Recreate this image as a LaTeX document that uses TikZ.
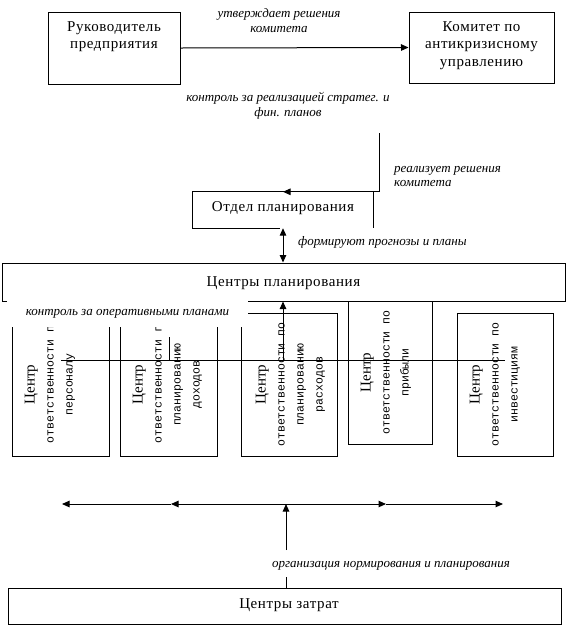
\documentclass[tikz,border=0pt]{standalone}
\usepackage{fontspec}
\setmainfont{Liberation Serif}
\newfontfamily\monof{Liberation Mono}
\usetikzlibrary{arrows.meta}
\tikzset{
 box/.style={draw, line width=1pt, rectangle, inner sep=0pt},
 maintxt/.style={font=\fontsize{15}{17.5}\selectfont\addfontfeature{LetterSpace=4}, align=center, inner sep=0pt},
 lbl/.style={font=\fontsize{13}{15}\selectfont\itshape, align=center, inner sep=0pt},
 lbll/.style={font=\fontsize{13}{14}\selectfont\itshape, align=left, inner sep=0pt},
 vtxt/.style={font=\fontsize{11.5}{19}\selectfont\monof, align=center, inner sep=0pt, rotate=90, anchor=north},
 conn/.style={line width=1pt},
 arr/.style={line width=1pt, -{Triangle[length=7.5pt,width=6.5pt]}},
 arrs/.style={line width=1pt, {Triangle[length=7.5pt,width=6.5pt]}-{Triangle[length=7.5pt,width=6.5pt]}},
}
\newcommand\centrword{{\rmfamily\fontsize{15}{19}\selectfont Центр}}
\begin{document}
\begin{tikzpicture}[x=1pt,y=-1pt]
\useasboundingbox (0,0) rectangle (566,625);
% top boxes
\node[box, minimum width=132pt, minimum height=72pt] (ruk) at (114,48) {};
\node[maintxt] (rukt) at (114,36.5) {Руководитель\\предприятия};
\node[box, minimum width=145pt, minimum height=71pt] (kom) at (481.5,47.5) {};
\node[maintxt] (komt) at (481.5,45.5) {Комитет по\\антикризисному\\управлению};
\draw[arr] (ruk.east) -- (kom.west);
\node[lbl] (l1) at (279,20.5) {утверждает решения\\комитета};
\node[lbl] (l2) at (288,105.5) {контроль за реализацией стратег. и\\фин. планов};
% planning department
\node[inner sep=0pt, minimum width=180pt, minimum height=36pt] (otd) at (283,210) {};
\node[maintxt] (otdt) at (283,208) {Отдел планирования};
\coordinate (c1) at (379,133);
\draw[conn] (c1) -- (c1 |- otd.north) -- (otd.north west) -- (otd.south west) -- ([xshift=87pt]otd.south west);
\draw[conn] (otd.north east) -- (otd.south east);
\draw[arr] (c1 |- otd.north) -- (otd.north);
\node[lbll, anchor=west] (l3) at (394,177) {реализует решения\\комитета};
% planning centres
\node[box, minimum width=563pt, minimum height=38pt] (plan) at (283.5,282) {};
\node[maintxt] (plant) at (283.5,283) {Центры планирования};
\draw[arrs] (otd.south) -- (otd.south |- plan.north);
\node[lbl, anchor=west] (l4) at (298,242) {формируют прогнозы и планы};
% responsibility centres
\node[box, minimum width=97pt, minimum height=143pt] (b1) at (60.5,384.5) {};
\node[box, minimum width=97pt, minimum height=143pt] (b2) at (168.5,384.5) {};
\node[box, minimum width=96pt, minimum height=143pt] (b3) at (289,384.5) {};
\node[box, minimum width=84pt, minimum height=143pt] (b4) at (390,372.5) {};
\node[box, minimum width=96pt, minimum height=143pt] (b5) at (505,384.5) {};
\node[vtxt] (b1t) at ([xshift=13pt]b1.west) {\centrword\\ответственности п\\персоналу};
\node[vtxt] (b2t) at ([xshift=13pt]b2.west) {\centrword\\ответственности г\\планированию\\доходов};
\node[vtxt] (b3t) at ([xshift=15pt]b3.west) {\centrword\\ответственности по\\планированию\\расходов};
\node[vtxt] (b4t) at ([xshift=13pt]b4.west) {\centrword\\ответственности по\\прибыли};
\node[vtxt] (b5t) at ([xshift=13pt]b5.west) {\centrword\\ответственности по\\инвестициям};
\node[lbl, fill=white, minimum width=241pt, minimum height=26pt] (l5) at (127.5,314) {контроль за оперативными планами};
\coordinate (hl) at (61,360);
\coordinate (hr) at (505,360);
\draw[conn] (hl) -- (hr);
\coordinate (s1) at (169,337);
\draw[conn] (s1) -- (s1 |- hl);
\coordinate (h1) at (283,360);
\draw[arr] (h1) -- (h1 |- plan.south);
% cost centres
\node[box, minimum width=553pt, minimum height=36pt] (zat) at (284.5,606) {};
\node[maintxt] (zatt) at (289,605) {Центры затрат};
\coordinate (j) at (286,504);
\coordinate (a1) at (62,504);
\coordinate (a2) at (171,504);
\coordinate (a3) at (386,504);
\coordinate (a4) at (503,504);
\draw[arr] (j) -- (a2);
\draw[arr] (a2) -- (a1);
\draw[arr] (j) -- (a3);
\draw[arr] (a3) -- (a4);
\coordinate (v1) at (286,550);
\draw[arr] (v1) -- (j);
\coordinate (v2) at (286,577);
\draw[conn] (v2) -- (v2 |- zat.north);
\node[lbl] (l6) at (391,566) {организация нормирования и планирования};
\end{tikzpicture}
\end{document}
